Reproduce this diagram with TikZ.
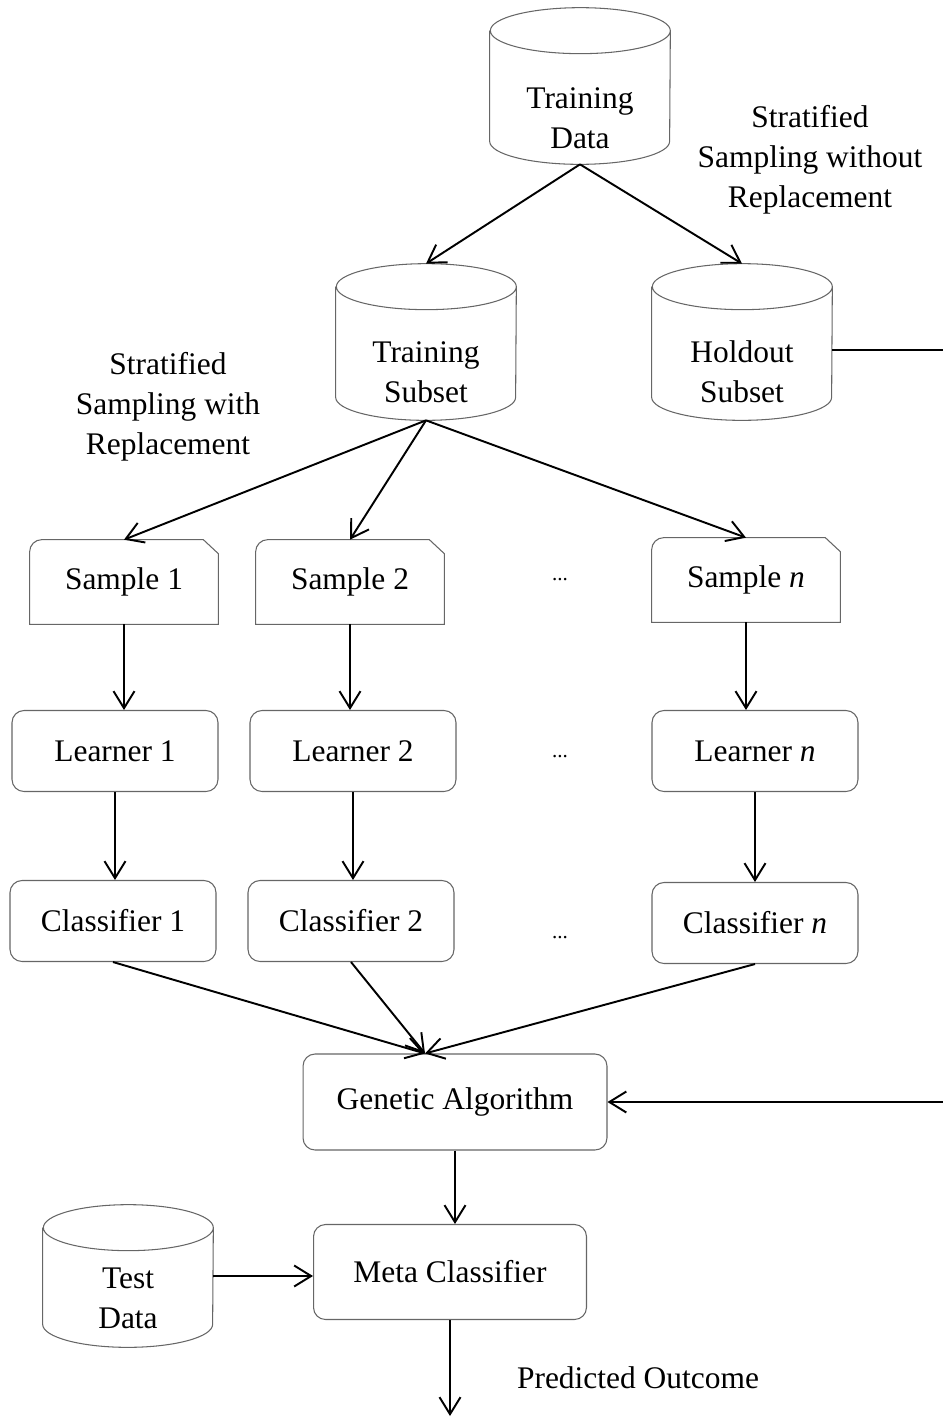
\documentclass[tikz,border=0pt]{standalone}
\usepackage{fontspec}
\setmainfont{Liberation Serif}
\usetikzlibrary{arrows.meta, positioning, calc}

\tikzset{
  outline/.style={draw=black!60, line width=0.6pt},
  box/.style={outline, rounded corners=0.24cm, minimum width=4.12cm, minimum height=1.62cm},
  sample/.style={minimum width=3.76cm, minimum height=1.68cm},
  db/.style={minimum width=3.6cm, minimum height=3.12cm},
  dbtext/.style={align=center},
  flow/.style={-{Straight Barb[length=0.34cm,width=0.42cm]}, line width=1.1pt},
}

\begin{document}
\begin{tikzpicture}[x=0.02cm, y=-0.02cm, font=\fontsize{17.9}{22.7}\selectfont]
  \useasboundingbox (0,0) rectangle (943,1418);

  % data stores
  \node[db] (tdata) at (580,86) {};
  \node[db] (tsub) at (426,342) {};
  \node[db] (hold) at (742,342) {};
  \node[db, minimum width=3.4cm, minimum height=2.84cm] (test) at (128,1276) {};
  \foreach \d/\rx in {tdata/1.8, tsub/1.8, hold/1.8, test/1.7}
    \draw[outline] ([yshift=-0.46cm]\d.north west) -- ([yshift=0.46cm]\d.south west)
      arc[start angle=180, end angle=360, x radius=\rx cm, y radius=0.46cm]
      -- ([yshift=-0.46cm]\d.north east)
      arc[start angle=0, end angle=360, x radius=\rx cm, y radius=0.46cm];
  \node[dbtext] (tdata-t) at (580,118) {Training\\Data};
  \node[dbtext] (tsub-t) at (426,372) {Training\\Subset};
  \node[dbtext] (hold-t) at (742,372) {Holdout\\Subset};
  \node[dbtext] (test-t) at (128,1298) {Test\\Data};

  % samples
  \node[sample] (s1) at (124,582) {Sample 1};
  \node[sample] (s2) at (350,582) {Sample 2};
  \node[sample] (sn) at (746,580) {Sample \textit{n}};
  \foreach \s in {s1,s2,sn}
    \draw[outline] (\s.south west) -- ([yshift=-0.24cm]\s.north west)
      arc[start angle=180, end angle=90, radius=0.24cm] -- ([xshift=-0.3cm]\s.north east)
      -- ([yshift=-0.28cm]\s.north east) -- (\s.south east) -- cycle;

  % learners
  \node[box] (l1) at (115,751) {Learner 1};
  \node[box] (l2) at (353,751) {Learner 2};
  \node[box] (ln) at (755,751) {Learner \textit{n}};

  % classifiers
  \node[box] (c1) at (113,921) {Classifier 1};
  \node[box] (c2) at (351,921) {Classifier 2};
  \node[box] (cn) at (755,923) {Classifier \textit{n}};

  \node[box, minimum width=6.08cm, minimum height=1.92cm] (ga) at (455,1102) {Genetic Algorithm};
  \node[box, minimum width=5.46cm, minimum height=1.9cm] (mc) at (450,1272) {Meta Classifier};

  \foreach \y [count=\i] in {580,757,938}
    \node[font=\fontsize{12}{14}\selectfont] (dots\i) at (560,\y) {...};

  % labels
  \node[align=center] (wo) at (810,160) {Stratified\\Sampling without\\Replacement};
  \node[align=center] (w) at (168,407) {Stratified\\Sampling with\\Replacement};
  \node (pred) at (638,1378) {Predicted Outcome};

  % connectors
  \draw[flow] (tdata.south) -- (tsub.north);
  \draw[flow] (tdata.south) -- (hold.north);
  \foreach \s in {s1,s2,sn}
    \draw[flow] (tsub.south) -- (\s.north);
  \foreach \s/\l in {s1/l1,s2/l2,sn/ln}
    \draw[flow] (\s.south) -- (\s.south |- \l.north);
  \foreach \l/\c in {l1/c1,l2/c2,ln/cn}
    \draw[flow] (\l.south) -- (\l.south |- \c.north);
  \coordinate (gain) at ([xshift=-0.6cm]ga.north);
  \foreach \c in {c1,c2,cn}
    \draw[flow] (\c.south) -- (gain);
  \coordinate (turn) at (960,350);
  \draw[flow] (hold.east |- turn) -- (turn) |- (ga.east);
  \draw[flow] (ga.south) -- (ga.south |- mc.north);
  \draw[flow] (test.east) -- (test.east -| mc.west);
  \coordinate (outc) at (455,1416);
  \draw[flow] (mc.south) -- (mc.south |- outc);
\end{tikzpicture}
\end{document}
